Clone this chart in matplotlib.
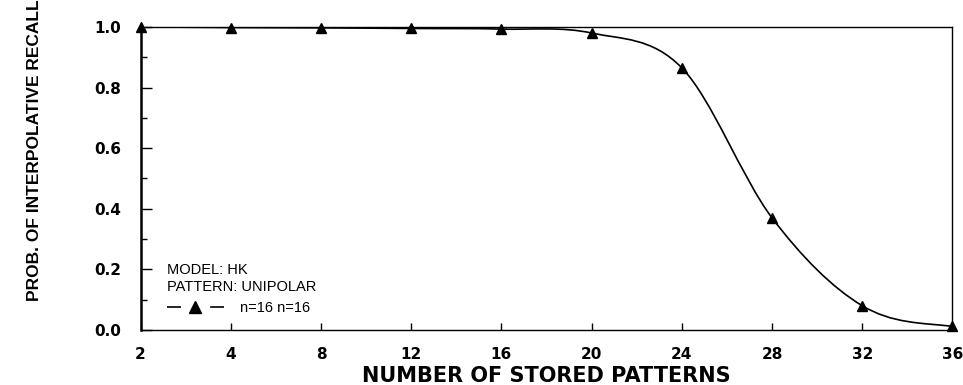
import numpy as np
import matplotlib
matplotlib.use('Agg')
import matplotlib.pyplot as plt
from matplotlib.path import Path
from matplotlib.patches import PathPatch
from matplotlib.lines import Line2D
from matplotlib.ticker import MultipleLocator

# stored patterns (tick labels, equally spaced on the axis)
patterns = ['2', '4', '8', '12', '16', '20', '24', '28', '32', '36']
# probability of interpolative recall
recall = [1.0, 0.998, 0.997, 0.995, 0.993, 0.98, 0.865, 0.37, 0.08, 0.012]

x = np.arange(len(patterns))
y = np.array(recall)

fig = plt.figure(figsize=(9.63, 3.85), dpi=100)
ax = fig.add_axes([0.146, 0.143, 0.843, 0.787])

# smooth curve through the points: cubic bezier segments (catmull-rom tangents)
tan = np.gradient(y, x)
tan[0] *= 0.5
tan[-1] *= 0.5
verts = [(x[0], y[0])]
codes = [Path.MOVETO]
for i in range(len(x) - 1):
    verts += [(x[i] + 1 / 3, y[i] + tan[i] / 3),
              (x[i + 1] - 1 / 3, y[i + 1] - tan[i + 1] / 3),
              (x[i + 1], y[i + 1])]
    codes += [Path.CURVE4] * 3
ax.add_patch(PathPatch(Path(verts, codes), facecolor='none', edgecolor='black', lw=1.2))
ax.plot(x, y, linestyle='none', marker='^', color='black', markersize=7, clip_on=False, zorder=5)

ax.set_xlim(0, len(patterns) - 1)
ax.set_ylim(0, 1)
ax.set_xticks(x)
ax.set_xticklabels(patterns)
ax.set_yticks([0, 0.2, 0.4, 0.6, 0.8, 1.0])
ax.set_yticklabels(['0.0', '0.2', '0.4', '0.6', '0.8', '1.0'])
ax.yaxis.set_minor_locator(MultipleLocator(0.1))

ax.tick_params(axis='y', which='major', direction='in', length=8, width=1, pad=14)
ax.tick_params(axis='y', which='minor', direction='in', length=4, width=1)
ax.tick_params(axis='x', which='major', direction='in', length=5, width=1, pad=12)
for lab in ax.get_xticklabels() + ax.get_yticklabels():
    lab.set_fontweight('bold')
    lab.set_fontsize(11)
    lab.set_fontfamily('DejaVu Sans')

ax.spines['left'].set_linewidth(1.8)
for s in ['top', 'right', 'bottom']:
    ax.spines[s].set_linewidth(1.0)

ax.set_xlabel('NUMBER OF STORED PATTERNS', fontsize=15, fontweight='bold',
              fontfamily='DejaVu Sans', labelpad=3)
fig.text(0.036, 0.61, 'PROB. OF INTERPOLATIVE RECALL', rotation=90, ha='center', va='center',
         fontsize=12.5, fontweight='bold', fontfamily='Liberation Sans')

handle = Line2D([], [], color='black', lw=1.2, linestyle=(0, (8.4, 17.5)), marker='^', markersize=8)
leg = ax.legend([handle], ['n=16 n=16'], loc='lower left', frameon=False,
                title='MODEL: HK\nPATTERN: UNIPOLAR', alignment='left',
                prop={'family': 'Liberation Sans', 'size': 10.5},
                handlelength=3.9, handletextpad=1.1, borderaxespad=0.3,
                bbox_to_anchor=(0.02, 0.015))
leg.get_title().set_fontfamily('Liberation Sans')
leg.get_title().set_fontsize(10.5)
leg.get_title().set_linespacing(1.3)

fig.savefig('out.png', dpi=100)
